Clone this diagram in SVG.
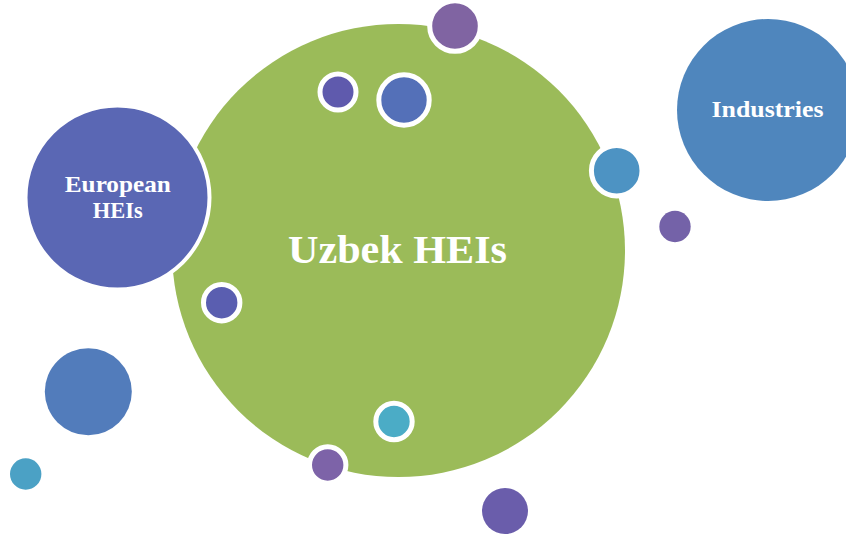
<svg xmlns="http://www.w3.org/2000/svg" width="846" height="535" viewBox="0 0 846 535">
<style>
.lbl{font-family:"Liberation Serif","Times New Roman",serif;font-weight:bold;fill:#ffffff;text-anchor:middle}
.ring{stroke:#ffffff;stroke-width:5}
</style>
<rect width="846" height="535" fill="#ffffff"/>
<g id="uzbek-heis">
<circle cx="398.5" cy="250.5" r="226.5" fill="#9BBB59"/>
<text class="lbl" x="397.5" y="263" font-size="41" textLength="219" lengthAdjust="spacingAndGlyphs">Uzbek HEIs</text>
</g>
<g id="european-heis">
<circle cx="117.5" cy="197.5" r="92" fill="#5A67B4" stroke="#ffffff" stroke-width="4"/>
<text class="lbl" x="117.8" y="191.7" font-size="23" textLength="106" lengthAdjust="spacingAndGlyphs">European</text>
<text class="lbl" x="117.8" y="218.3" font-size="23" textLength="50" lengthAdjust="spacingAndGlyphs">HEIs</text>
</g>
<g id="industries">
<circle cx="768" cy="110" r="91" fill="#4F86BD"/>
<text class="lbl" x="767.5" y="117.3" font-size="23" textLength="112" lengthAdjust="spacingAndGlyphs">Industries</text>
</g>
<g id="bubbles">
<circle id="b1" class="ring" cx="455" cy="26" r="25.3" fill="#8064A2"/>
<circle id="b2" class="ring" cx="338" cy="92" r="18" fill="#5F5AAD"/>
<circle id="b3" class="ring" cx="404" cy="100" r="25.2" fill="#5470B8"/>
<circle id="b4" class="ring" cx="616.7" cy="170.7" r="25.3" fill="#4D93C3"/>
<circle id="b5" cx="675" cy="226.5" r="15.7" fill="#7462A8"/>
<circle id="b6" class="ring" cx="221.7" cy="302.7" r="18.2" fill="#5A5EB0"/>
<circle id="b7" cx="88.3" cy="391.7" r="43.5" fill="#527CBB"/>
<circle id="b8" cx="25.7" cy="474" r="15.7" fill="#4BA1C5"/>
<circle id="b9" class="ring" cx="394" cy="421.5" r="18.2" fill="#4BACC6"/>
<circle id="b10" class="ring" cx="327.7" cy="465" r="18.2" fill="#7D63A8"/>
<circle id="b11" cx="505" cy="511" r="23" fill="#6A5DAB"/>
</g>
</svg>
